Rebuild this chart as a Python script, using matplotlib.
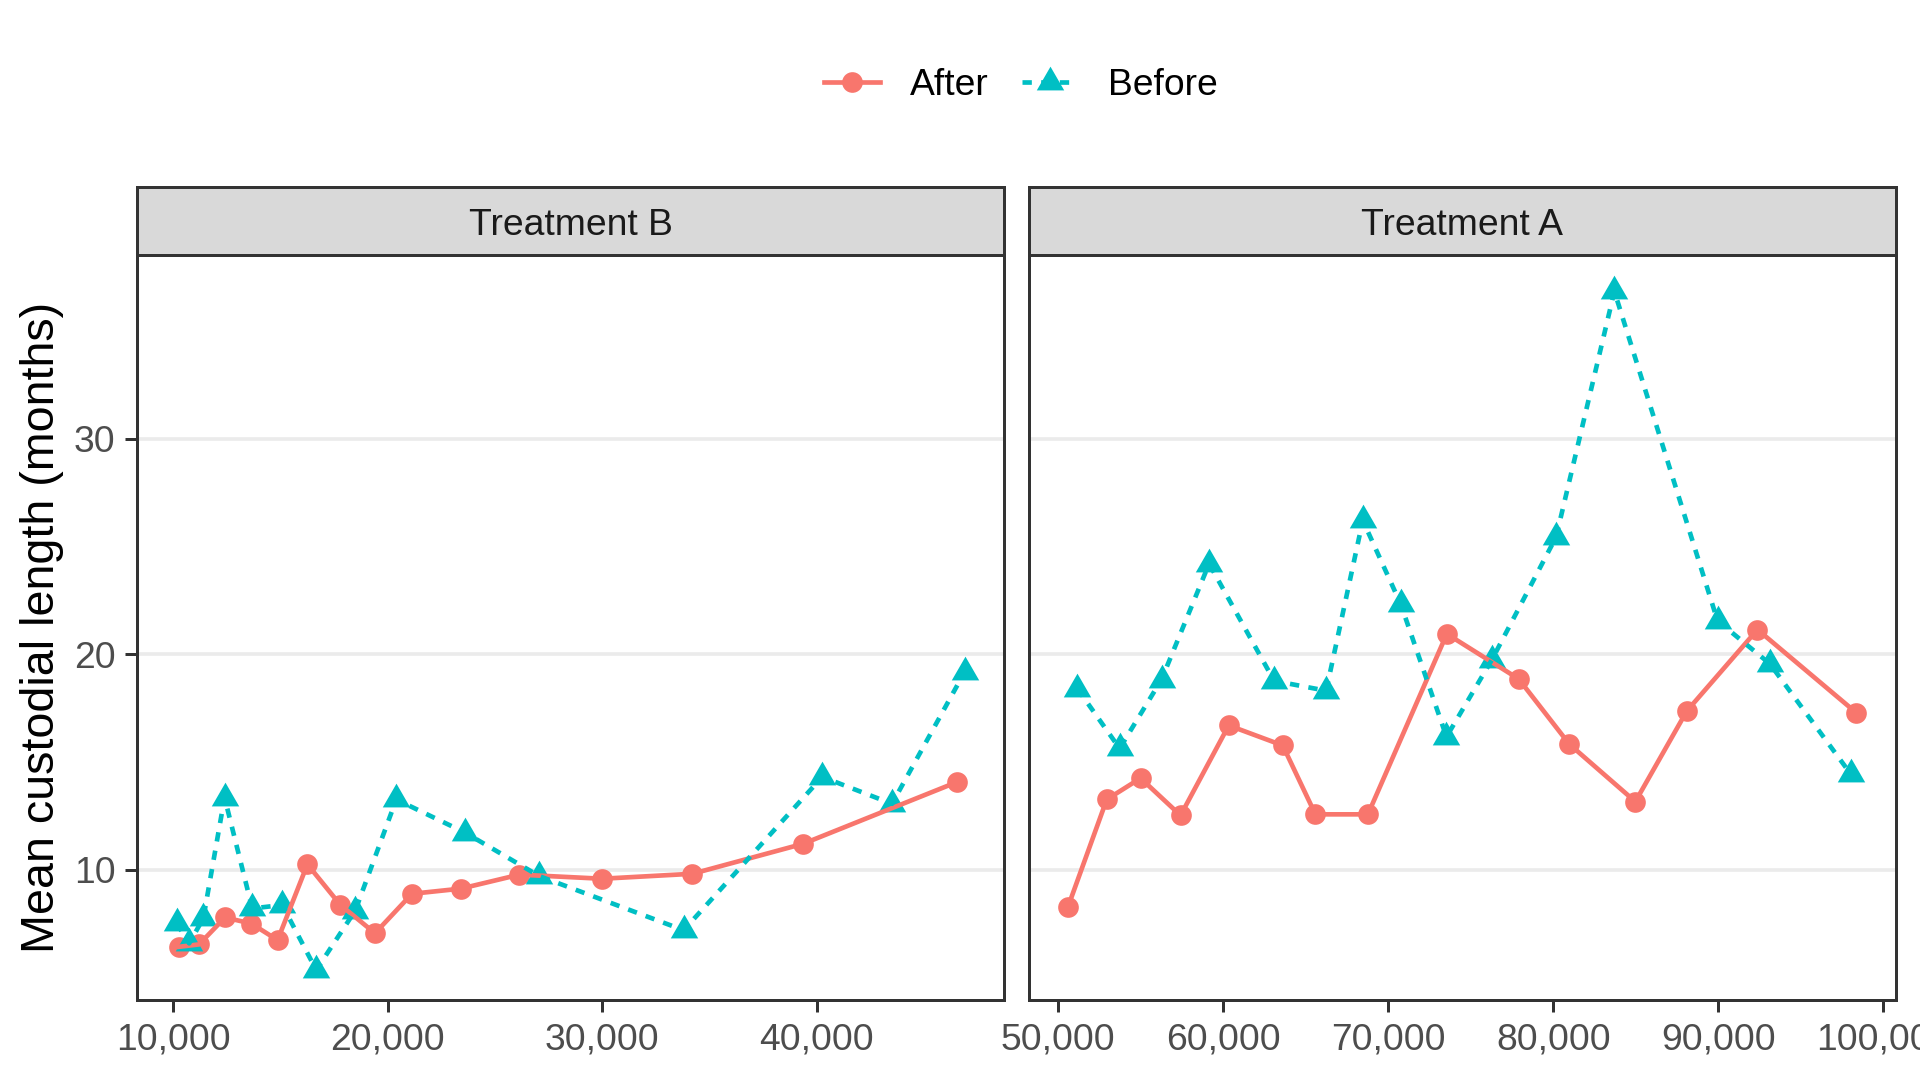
import matplotlib
matplotlib.use("Agg")
import matplotlib.pyplot as plt
from matplotlib.lines import Line2D
from matplotlib.ticker import FuncFormatter, MultipleLocator

plt.rcParams['font.family'] = ['Liberation Sans', 'DejaVu Sans']

# facet labels
panels = ["Treatment B", "Treatment A"]

# Treatment B
b_after_x = [10280, 11210, 12420, 13645, 14870, 16260, 17790, 19410, 21130, 23410, 26140, 29990, 34200, 39350, 46530]
b_after_y = [6.42, 6.53, 7.78, 7.50, 6.73, 10.25, 8.37, 7.05, 8.88, 9.12, 9.77, 9.58, 9.81, 11.20, 14.07]
b_before_x = [10160, 10750, 11410, 12400, 13690, 15090, 16670, 18490, 20400, 23610, 27070, 33790, 40250, 43500, 46890]
b_before_y = [7.52, 6.58, 7.74, 13.35, 8.20, 8.36, 5.34, 8.10, 13.26, 11.72, 9.70, 7.19, 14.31, 13.06, 19.19]

# Treatment A
a_after_x = [50600, 52950, 55000, 57420, 60340, 63610, 65590, 68770, 73550, 77900, 80970, 84970, 88090, 92370, 98350]
a_after_y = [8.27, 13.26, 14.25, 12.52, 16.70, 15.77, 12.57, 12.57, 20.95, 18.86, 15.83, 13.16, 17.37, 21.15, 17.29]
a_before_x = [51170, 53730, 56270, 59150, 63090, 66240, 68460, 70760, 73530, 76290, 80170, 83700, 89950, 93120, 98020]
a_before_y = [18.41, 15.63, 18.83, 24.21, 18.77, 18.31, 26.22, 22.33, 16.17, 19.76, 25.45, 36.86, 21.56, 19.56, 14.44]

data = [(b_after_x, b_after_y, b_before_x, b_before_y),
        (a_after_x, a_after_y, a_before_x, a_before_y)]

RED = '#F8766D'
CYAN = '#00BFC4'
LW = 1.4
# R style filled triangle, centroid at the point
tri = [(0, 1.555), (1.347, -0.778), (-1.347, -0.778), (0, 1.555)]

fig = plt.figure(figsize=(8, 4.5), dpi=240)

bottom, top, striptop = 0.0737, 0.7642, 0.8265
lefts = [0.0714, 0.5357]
width = 0.4516

axes = []
for i, name in enumerate(panels):
    ax = fig.add_axes([lefts[i], bottom, width, top - bottom], sharey=axes[0] if axes else None)
    axes.append(ax)
    ax_x, ax_y, bx, by = data[i]

    ax.plot(ax_x, ax_y, ls='none', marker='o', ms=6.2, color=RED, mew=0, zorder=2)
    ax.plot(bx, by, ls='none', marker=tri, ms=9.5, color=CYAN, mew=0, zorder=2.1)
    ax.plot(ax_x, ax_y, '-', color=RED, lw=LW, zorder=3)
    ax.plot(bx, by, color=CYAN, lw=LW, ls=(0, (2, 2)), zorder=3.1)

    ax.margins(x=0.05, y=0.05)
    ax.xaxis.set_major_locator(MultipleLocator(10000))
    ax.xaxis.set_major_formatter(FuncFormatter(lambda v, p: '{:,.0f}'.format(v)))
    ax.yaxis.set_major_locator(MultipleLocator(10))
    ax.grid(True, axis='y', color='#EBEBEB', lw=1.1)
    ax.set_axisbelow(True)
    for s in ax.spines.values():
        s.set_color('#333333')
        s.set_linewidth(0.9)
    ax.tick_params(colors='#333333', labelcolor='#4D4D4D', labelsize=11.2,
                   length=3.5, width=0.9, pad=3.0)

    # strip
    st = fig.add_axes([lefts[i], top, width, striptop - top])
    st.set_facecolor('#D9D9D9')
    st.set_xticks([])
    st.set_yticks([])
    for s in st.spines.values():
        s.set_color('#333333')
        s.set_linewidth(0.9)
    st.text(0.5, 0.44, name, ha='center', va='center', fontsize=11.2, color='#1A1A1A',
            transform=st.transAxes)

axes[0].set_ylim(3.93, 38.56)
axes[1].tick_params(axis='y', left=False, labelleft=False)
axes[0].set_ylabel('Mean custodial length (months)', fontsize=14, color='black', labelpad=3)

h1 = Line2D([], [], color=RED, lw=LW, marker='o', ms=6.2, mew=0)
h2 = Line2D([], [], color=CYAN, lw=LW, ls=(0, (2, 2)), marker=tri, ms=9.5, mew=0)
fig.legend([h1, h2], ['After', 'Before'], loc='center', bbox_to_anchor=(0.5316, 0.921),
           ncol=2, frameon=False, fontsize=11.2, handlelength=1.5, handletextpad=0.8,
           columnspacing=0.9)

fig.savefig('out.png', dpi=240)
